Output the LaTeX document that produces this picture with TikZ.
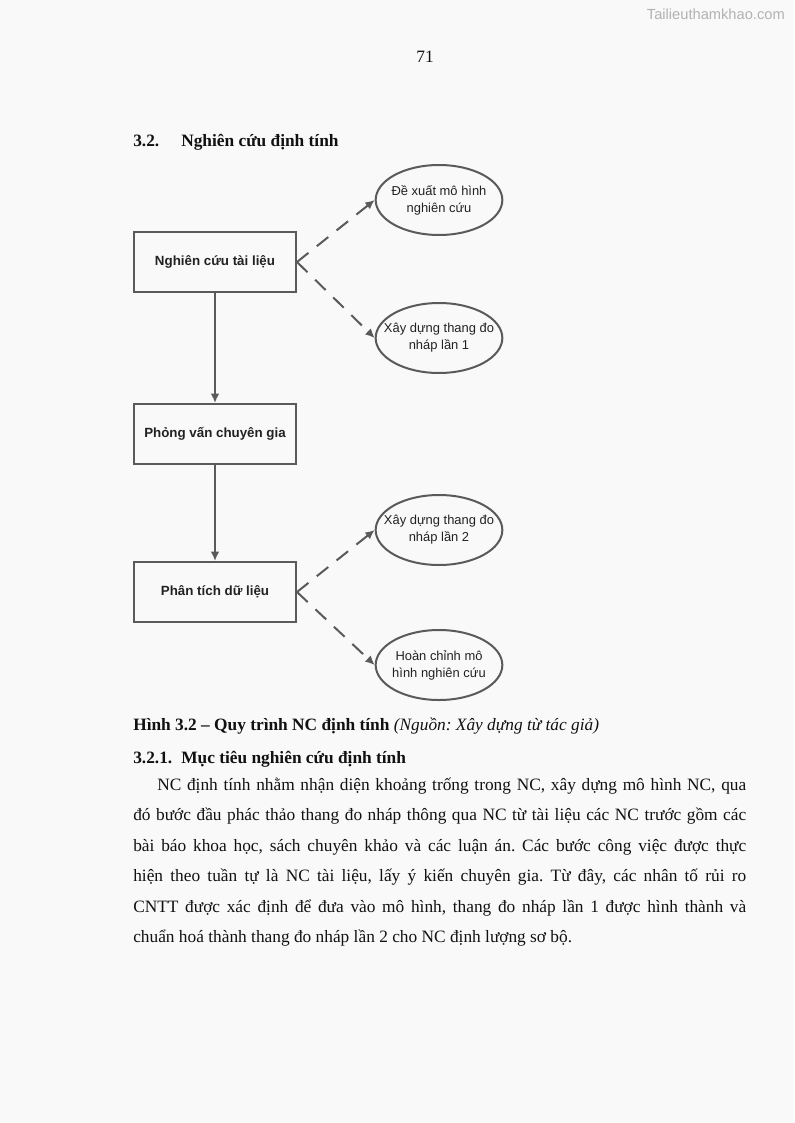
\documentclass[tikz,border=0pt]{standalone}
\usepackage{fontspec}
\setmainfont{Liberation Serif}
\newfontfamily\arialf{Liberation Sans}
\usetikzlibrary{shapes.geometric,arrows.meta}
\definecolor{pagebg}{HTML}{F9F9F9}
\definecolor{linegray}{HTML}{5A5A5A}
\definecolor{boxtext}{HTML}{222222}
\definecolor{bodytext}{HTML}{111111}
\frenchspacing
\tikzset{
  stepbox/.style={draw=linegray, line width=1.5pt, fill=pagebg, minimum width=121.5pt, minimum height=45pt, inner sep=0pt,
    font=\arialf\bfseries\fontsize{10}{12}\selectfont, text=boxtext},
  oval/.style={ellipse, draw=linegray, line width=1.5pt, fill=pagebg, minimum width=95pt, minimum height=52.5pt, inner xsep=-9pt, inner ysep=0pt,
    align=center, font=\arialf\fontsize{9.7}{12.7}\selectfont, text=boxtext},
  solidarrow/.style={draw=linegray, line width=1.5pt, -{Latex[length=7pt,width=6.5pt]}},
  dasharrow/.style={draw=linegray, line width=1.5pt, dash pattern=on 11pt off 8pt, -{Latex[length=7pt,width=6.5pt]}},
  bodyline/.style={anchor=base west, inner sep=0pt, font=\fontsize{13}{15}\selectfont, text=bodytext},
}
\begin{document}
\begin{tikzpicture}[x=0.75pt,y=-0.75pt]
\fill[pagebg] (0,0) rectangle (794,1123);
\useasboundingbox (0,0) rectangle (794,1123);
% watermark
\node[anchor=base east, inner sep=0pt, text=black!30, font=\arialf\fontsize{11}{13}\selectfont] (wm) at (785,20) {Tailieuthamkhao.com};
% page number
\node[anchor=base, inner sep=0pt, font=\fontsize{13}{15}\selectfont, text=bodytext] (pg) at (425,63) {71};
% heading
\node[bodyline, font=\bfseries\fontsize{13}{15}\selectfont] (h1) at (133,147) {3.2.};
\node[bodyline, font=\bfseries\fontsize{13}{15}\selectfont] (h2) at (181,147) {Nghiên cứu định tính};
% boxes
\node[stepbox] (b1) at (215,262) {Nghiên cứu tài liệu};
\node[stepbox] (b2) at (215,434) {Phỏng vấn chuyên gia};
\node[stepbox] (b3) at (215,592) {Phân tích dữ liệu};
% ellipses
\node[oval] (e1) at (439,200) {Đề xuất mô hình\\nghiên cứu};
\node[oval] (e2) at (439,338) {Xây dựng thang đo\\nháp lần 1};
\node[oval] (e3) at (439,530) {Xây dựng thang đo\\nháp lần 2};
\node[oval] (e4) at (439,665) {Hoàn chỉnh mô\\hình nghiên cứu};
% connectors
\draw[solidarrow] (b1) -- (b2);
\draw[solidarrow] (b2) -- (b3);
\draw[dasharrow] (b1.east) -- (e1.west);
\draw[dasharrow] (b1.east) -- (e2.west);
\draw[dasharrow] (b3.east) -- (e3.west);
\draw[dasharrow] (b3.east) -- (e4.west);
% caption
\node[bodyline] (cap) at (133,730) {\textbf{Hình 3.2 – Quy trình NC định tính} \textit{(Nguồn: Xây dựng từ tác giả)}};
\node[bodyline, font=\bfseries\fontsize{13}{15}\selectfont] (s1) at (133,763) {3.2.1.};
\node[bodyline, font=\bfseries\fontsize{13}{15}\selectfont] (s2) at (181,763) {Mục tiêu nghiên cứu định tính};
% body
\node[bodyline] (l1) at (157,790) {\makebox[441.75pt][s]{NC định tính nhằm nhận diện khoảng trống trong NC, xây dựng mô hình NC, qua}};
\node[bodyline] (l2) at (133,820.5) {\makebox[459.75pt][s]{đó bước đầu phác thảo thang đo nháp thông qua NC từ tài liệu các NC trước gồm các}};
\node[bodyline] (l3) at (133,851) {\makebox[459.75pt][s]{bài báo khoa học, sách chuyên khảo và các luận án. Các bước công việc được thực}};
\node[bodyline] (l4) at (133,881.5) {\makebox[459.75pt][s]{hiện theo tuần tự là NC tài liệu, lấy ý kiến chuyên gia. Từ đây, các nhân tố rủi ro}};
\node[bodyline] (l5) at (133,912) {\makebox[459.75pt][s]{CNTT được xác định để đưa vào mô hình, thang đo nháp lần 1 được hình thành và}};
\node[bodyline] (l6) at (133,942.5) {chuẩn hoá thành thang đo nháp lần 2 cho NC định lượng sơ bộ.};
\end{tikzpicture}
\end{document}
